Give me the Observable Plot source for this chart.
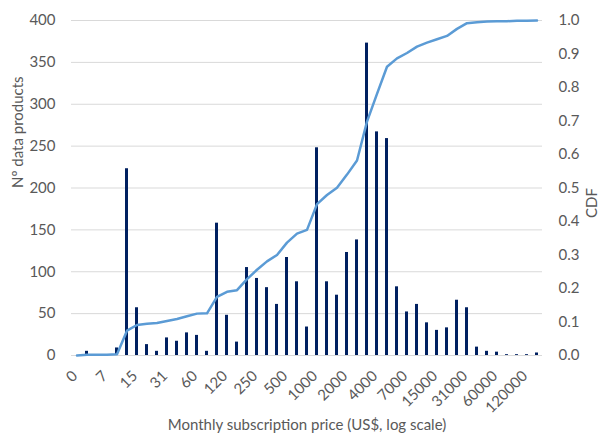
<!DOCTYPE html>
<html>
<head>
<meta charset="utf-8">
<script src="https://cdn.jsdelivr.net/npm/d3@7"></script>
<script src="https://cdn.jsdelivr.net/npm/@observablehq/plot@0.6"></script>
<style>
  html, body { margin: 0; padding: 0; background: #ffffff; }
  svg { display: block; }
</style>
</head>
<body>
<div id="chart"></div>
<script>
// Price bins (47 categories, every third one labelled)
const binIndex = d3.range(47);
const tickLabels = ["0","7","15","31","60","120","250","500","1000","2000","4000","7000","15000","31000","60000","120000"];
// Nº data products per price bin
const counts = [0,5,0,0,9,223,57,13,5,21,17,27,24,5,158,48,16,105,92,81,61,117,88,34,248,88,72,123,138,373,267,259,82,52,61,39,30,33,66,57,10,5,4,1,1,1,3];
// CDF per price bin
const cdf = [0,0.002,0.002,0.002,0.004,0.074,0.091,0.095,0.097,0.103,0.109,0.117,0.125,0.126,0.175,0.190,0.195,0.228,0.256,0.281,0.300,0.337,0.364,0.375,0.452,0.479,0.501,0.540,0.582,0.698,0.781,0.862,0.887,0.903,0.922,0.934,0.944,0.954,0.975,0.992,0.995,0.997,0.998,0.998,0.999,0.999,1.0];
const countTicks = [0,50,100,150,200,250,300,350,400];
const cdfTicks = [0,0.1,0.2,0.3,0.4,0.5,0.6,0.7,0.8,0.9,1.0];

const countMax = 400; // left axis max; CDF 1.0 shares this height
const rows = binIndex.map(i => ({bin: i, count: counts[i], cdf: cdf[i]}));
const labelledBins = binIndex.filter(i => i % 3 === 0);

const chart = Plot.plot({
  width: 600,
  height: 438,
  marginTop: 20,
  marginBottom: 83,
  marginLeft: 71,
  marginRight: 58,
  style: {fontFamily: "Lato, 'Open Sans', sans-serif", fontSize: "15px", color: "#595959", background: "#ffffff"},
  x: {type: "band", domain: binIndex, paddingInner: 0.7, paddingOuter: 0.35, axis: null},
  y: {domain: [0, countMax], axis: null},
  marks: [
    Plot.ruleY(countTicks, {stroke: "#d9d9d9", strokeWidth: 1}),
    Plot.axisY(countTicks, {anchor: "left", tickSize: 0, tickPadding: 16, label: null}),
    Plot.axisY(cdfTicks.map(v => v * countMax), {anchor: "right", tickSize: 0, tickPadding: 16, label: null,
      tickFormat: v => (v / countMax).toFixed(1)}),
    Plot.axisX(labelledBins, {anchor: "bottom", tickSize: 0, tickPadding: 18, tickRotate: -45, dx: -2, label: null,
      tickFormat: i => tickLabels[i / 3]}),
    Plot.barY(rows, {x: "bin", y: "count", fill: "#002060"}),
    Plot.lineY(rows, {x: "bin", y: d => d.cdf * countMax, stroke: "#5b9bd5", strokeWidth: 2.5}),
    Plot.text(["Nº data products"], {frameAnchor: "left", rotate: -90, dx: -53, fontSize: 15}),
    Plot.text(["CDF"], {frameAnchor: "right", rotate: -90, dx: 50, fontSize: 15}),
    Plot.text(["Monthly subscription price (US$, log scale)"], {frameAnchor: "bottom", dy: 74, fontSize: 15})
  ]
});
document.getElementById("chart").appendChild(chart);
</script>
</body>
</html>
